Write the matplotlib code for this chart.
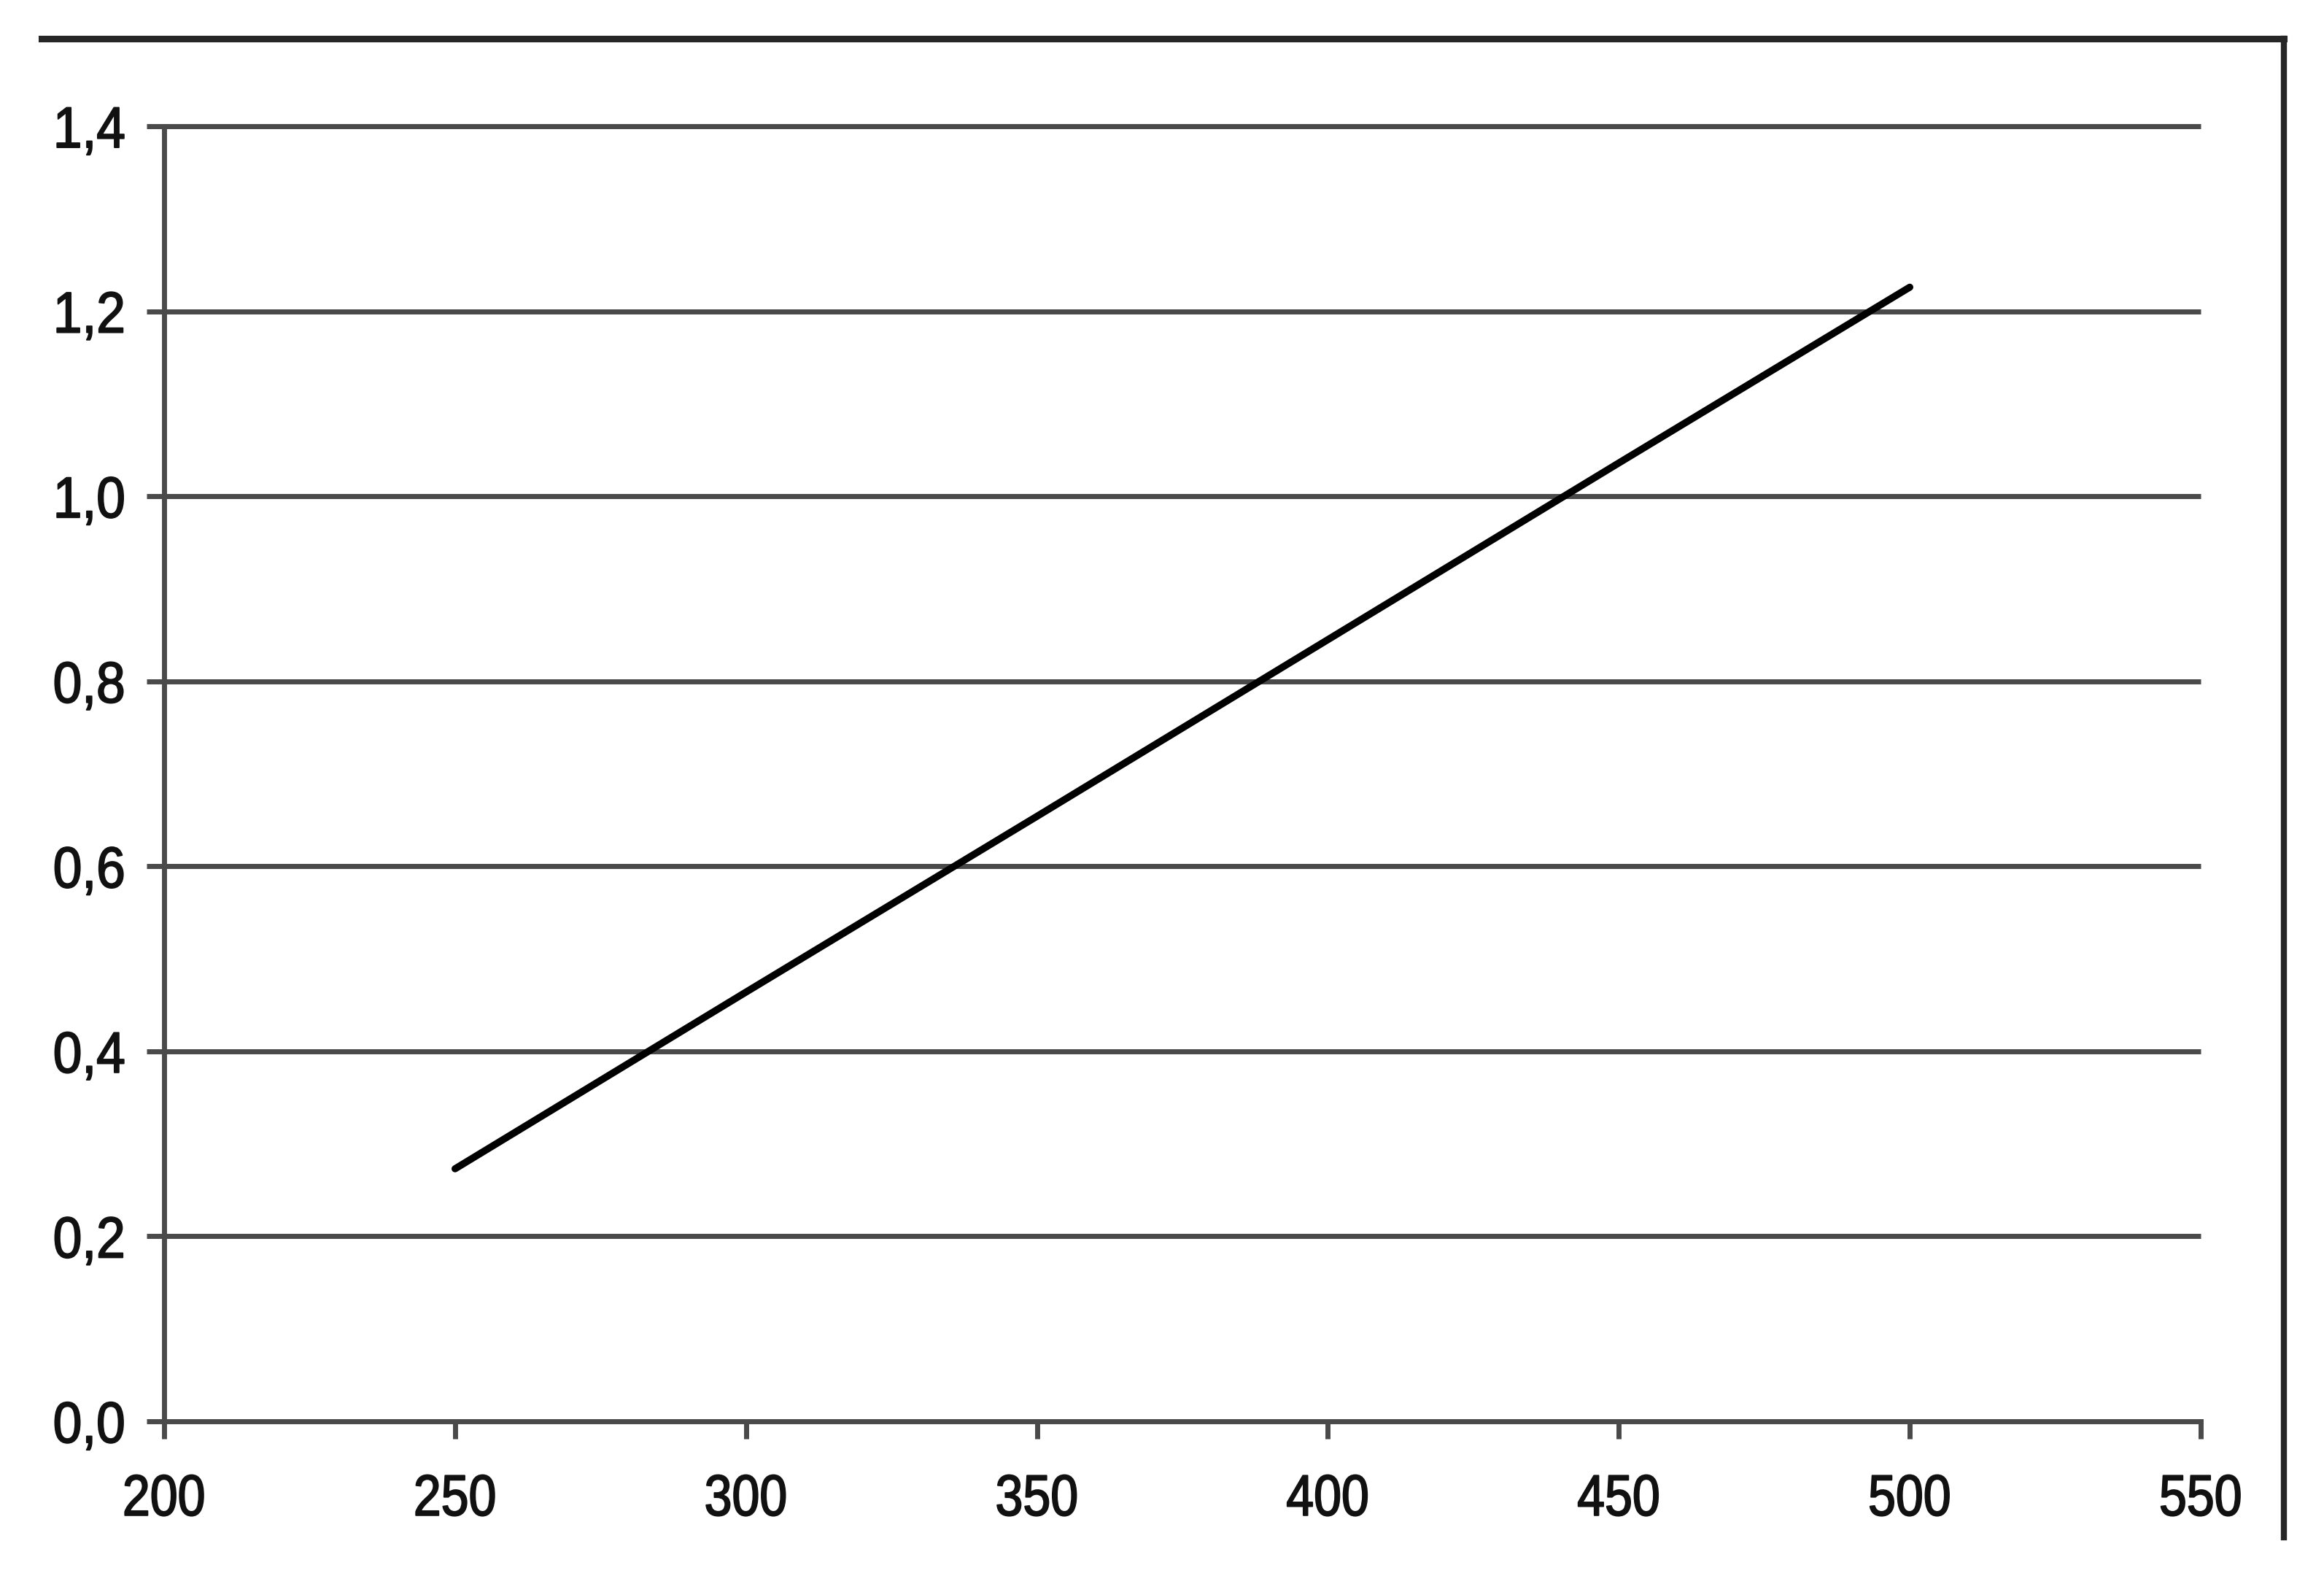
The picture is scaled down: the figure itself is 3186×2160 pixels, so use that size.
import matplotlib
matplotlib.use("Agg")
import matplotlib.pyplot as plt
from matplotlib.lines import Line2D
from matplotlib.patheffects import AbstractPathEffect
from matplotlib.transforms import Affine2D

# ---- data ----
x_values = [250, 300, 350, 400, 450, 500]
y_values = [0.273, 0.464, 0.654, 0.845, 1.036, 1.226]
x_ticks = [200, 250, 300, 350, 400, 450, 500, 550]
y_ticks = [0.0, 0.2, 0.4, 0.6, 0.8, 1.0, 1.2, 1.4]
y_tick_labels = ["0,0", "0,2", "0,4", "0,6", "0,8", "1,0", "1,2", "1,4"]
x_tick_labels = [str(v) for v in x_ticks]

plt.rcParams['font.family'] = ['Liberation Sans', 'DejaVu Sans']


class HScale(AbstractPathEffect):
    """Horizontally condense glyph outlines (narrow-font look) about an anchor."""
    def __init__(self, sx, anchor="center", stroke=0.0):
        super().__init__()
        self.sx = sx
        self.anchor = anchor
        self.stroke = stroke

    def draw_path(self, renderer, gc, tpath, affine, rgbFace=None):
        v = tpath.vertices
        xmin, xmax = v[:, 0].min(), v[:, 0].max()
        cx = xmax if self.anchor == "right" else 0.5 * (xmin + xmax)
        t = Affine2D().translate(-cx, 0).scale(self.sx, 1).translate(cx, 0) + affine
        gc0 = renderer.new_gc()
        gc0.copy_properties(gc)
        if self.stroke > 0 and rgbFace is not None:
            gc0.set_linewidth(renderer.points_to_pixels(self.stroke))
            gc0.set_foreground(rgbFace)
            gc0.set_joinstyle("round")
        renderer.draw_path(gc0, tpath, t, rgbFace)
        gc0.restore()


W, H, DPI = 3186, 2160, 100
fig = plt.figure(figsize=(W / DPI, H / DPI), dpi=DPI)
fig.patch.set_facecolor("white")

left, right, bottom, top = 225, 3017, 1948, 173
ax = fig.add_axes([left / W, 1 - bottom / H, (right - left) / W, (bottom - top) / H])

grid_col = "#4a4a4a"
ax.set_xlim(200, 550)
ax.set_ylim(0, 1.4)
ax.set_yticks(y_ticks)
ax.set_yticklabels(y_tick_labels)
ax.set_xticks(x_ticks)
ax.set_xticklabels(x_tick_labels)

for v in y_ticks[1:]:
    ax.axhline(v, color=grid_col, lw=5.0, zorder=1, solid_capstyle="butt", clip_on=False)

ax.plot(x_values, y_values, color="black", lw=7.0, solid_capstyle="round", zorder=3)

for s in ["top", "right"]:
    ax.spines[s].set_visible(False)
for s in ["left", "bottom"]:
    ax.spines[s].set_color(grid_col)
    ax.spines[s].set_linewidth(5.0)
    ax.spines[s].set_zorder(2)

ax.tick_params(axis="both", direction="out", length=17, width=5.0, color=grid_col,
               labelsize=57, labelcolor="#111111")
ax.tick_params(axis="y", pad=21)
ax.tick_params(axis="x", pad=34)
ax.set_facecolor("white")

for lab in ax.get_yticklabels():
    lab.set_path_effects([HScale(0.90, "right", stroke=1.0)])
for lab in ax.get_xticklabels():
    lab.set_path_effects([HScale(0.86, "center", stroke=1.0)])

# frame lines (top and right border of the chart area)
fx0, fx1 = 57 / W, 3131 / W
fy_top, fy_bot = 1 - 53 / H, 1 - 2107 / H
fig.add_artist(Line2D([fx0, fx1], [fy_top, fy_top], color="#262626", lw=6.5,
                      transform=fig.transFigure))
fig.add_artist(Line2D([fx1, fx1], [fy_top, fy_bot], color="#262626", lw=6.0,
                      transform=fig.transFigure))

fig.savefig("out.png", dpi=DPI, facecolor="white")
